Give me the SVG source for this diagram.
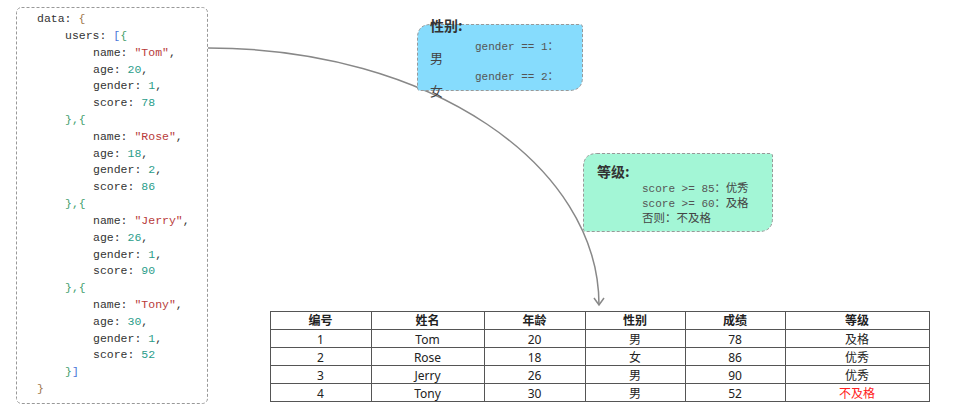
<svg xmlns="http://www.w3.org/2000/svg" width="954" height="418" viewBox="0 0 954 418">
<defs>
<style>
.code{font-family:"Liberation Mono","DejaVu Sans Mono",monospace;font-size:11.5px;fill:#333}
.s{fill:#b83a3a}.n{fill:#2a9d8a}.g{fill:#45a06e}.b{fill:#4a76d8}.br{fill:#a0784c}
.box{stroke:#999;stroke-width:1;stroke-dasharray:3 2}
.ttl{font-family:"Noto Sans CJK SC",sans-serif;font-weight:bold;font-size:14px;fill:#333}
.mono{font-family:"Liberation Mono","Noto Sans CJK SC",monospace;font-size:11px;fill:#555}
.cjk{font-family:"Noto Sans CJK SC",sans-serif;fill:#444}
.tb{font-family:"Noto Sans","Noto Sans CJK SC",sans-serif;font-size:12px;fill:#222;text-anchor:middle}
.th{font-weight:bold}
.grid{stroke:#555;stroke-width:1;fill:none}
.conn{fill:none;stroke:#888;stroke-width:1.5}
</style>
<marker id="arr" markerWidth="12" markerHeight="12" refX="10" refY="6" orient="auto" markerUnits="userSpaceOnUse" viewBox="0 0 12 12">
<path d="M3 1 L10 6 L3 11" fill="none" stroke="#888" stroke-width="1.5"/>
</marker>
</defs>
<rect width="954" height="418" fill="#fff"/>
<g id="connectors">
<path class="conn" d="M208 48 C430 48 599 165 599 305" marker-end="url(#arr)"/>
</g>
<g id="code">
<rect class="box" x="16.5" y="7.5" width="191" height="396" rx="5" fill="#fff"/>
<text class="code" x="37" y="22">data: <tspan class="br">{</tspan></text>
<text class="code" x="65" y="38.8">users: <tspan class="b">[</tspan><tspan class="g">{</tspan></text>
<text class="code" x="93" y="55.6">name: <tspan class="s">"Tom"</tspan>,</text>
<text class="code" x="93" y="72.5">age: <tspan class="n">20</tspan>,</text>
<text class="code" x="93" y="89.3">gender: <tspan class="n">1</tspan>,</text>
<text class="code" x="93" y="106.1">score: <tspan class="n">78</tspan></text>
<text class="code g" x="65" y="122.9">},{</text>
<text class="code" x="93" y="139.7">name: <tspan class="s">"Rose"</tspan>,</text>
<text class="code" x="93" y="156.6">age: <tspan class="n">18</tspan>,</text>
<text class="code" x="93" y="173.4">gender: <tspan class="n">2</tspan>,</text>
<text class="code" x="93" y="190.2">score: <tspan class="n">86</tspan></text>
<text class="code g" x="65" y="207">},{</text>
<text class="code" x="93" y="223.8">name: <tspan class="s">"Jerry"</tspan>,</text>
<text class="code" x="93" y="240.7">age: <tspan class="n">26</tspan>,</text>
<text class="code" x="93" y="257.5">gender: <tspan class="n">1</tspan>,</text>
<text class="code" x="93" y="274.3">score: <tspan class="n">90</tspan></text>
<text class="code g" x="65" y="291.1">},{</text>
<text class="code" x="93" y="307.9">name: <tspan class="s">"Tony"</tspan>,</text>
<text class="code" x="93" y="324.8">age: <tspan class="n">30</tspan>,</text>
<text class="code" x="93" y="341.6">gender: <tspan class="n">1</tspan>,</text>
<text class="code" x="93" y="358.4">score: <tspan class="n">52</tspan></text>
<text class="code" x="65" y="375.2"><tspan class="g">}</tspan><tspan class="b">]</tspan></text>
<text class="code br" x="37" y="392">}</text>
</g>
<g id="gender">
<path class="box" d="M431 24.5 H580 Q582.5 24.5 582.5 27 V77 Q582.5 90.5 569 90.5 H420 Q417.5 90.5 417.5 88 V38 Q417.5 24.5 431 24.5 Z" fill="#86dcfd"/>
<text class="ttl" x="430" y="31">性别:</text>
<text class="mono" x="475" y="50">gender == 1：</text>
<text class="cjk" x="430" y="63" font-size="13">男</text>
<text class="mono" x="475" y="80">gender == 2：</text>
<text class="cjk" x="430" y="96" font-size="13">女</text>
</g>
<g id="grade">
<path class="box" d="M597 153.5 H770 Q772.5 153.5 772.5 156 V218 Q772.5 231.5 759 231.5 H586 Q583.5 231.5 583.5 229 V167 Q583.5 153.5 597 153.5 Z" fill="#a3f6d6"/>
<text class="ttl" x="597" y="177">等级:</text>
<text class="mono" x="642" y="192">score &gt;= 85：<tspan class="cjk" font-size="11.5">优秀</tspan></text>
<text class="mono" x="642" y="207">score &gt;= 60：<tspan class="cjk" font-size="11.5">及格</tspan></text>
<text class="cjk" x="642" y="222" font-size="11.5">否则：不及格</text>
</g>
<g id="table">
<rect class="grid" x="270.5" y="311.5" width="659" height="90"/>
<path class="grid" d="M270 329.5 H930 M270 347.5 H930 M270 365.5 H930 M270 383.5 H930 M371.5 311 V402 M484.5 311 V402 M585.5 311 V402 M685.5 311 V402 M785.5 311 V402"/>
<g class="tb th">
<text x="320.5" y="325">编号</text><text x="427.5" y="325">姓名</text><text x="534.5" y="325">年龄</text><text x="635" y="325">性别</text><text x="735" y="325">成绩</text><text x="857" y="325">等级</text>
</g>
<g class="tb">
<text x="320.5" y="343.5">1</text><text x="427.5" y="343.5">Tom</text><text x="534.5" y="343.5">20</text><text x="635" y="343.5">男</text><text x="735" y="343.5">78</text><text x="857" y="343.5">及格</text>
<text x="320.5" y="361.5">2</text><text x="427.5" y="361.5">Rose</text><text x="534.5" y="361.5">18</text><text x="635" y="361.5">女</text><text x="735" y="361.5">86</text><text x="857" y="361.5">优秀</text>
<text x="320.5" y="379.5">3</text><text x="427.5" y="379.5">Jerry</text><text x="534.5" y="379.5">26</text><text x="635" y="379.5">男</text><text x="735" y="379.5">90</text><text x="857" y="379.5">优秀</text>
<text x="320.5" y="397.5">4</text><text x="427.5" y="397.5">Tony</text><text x="534.5" y="397.5">30</text><text x="635" y="397.5">男</text><text x="735" y="397.5">52</text><text x="857" y="397.5" fill="#ff2020">不及格</text>
</g>
</g>
</svg>
